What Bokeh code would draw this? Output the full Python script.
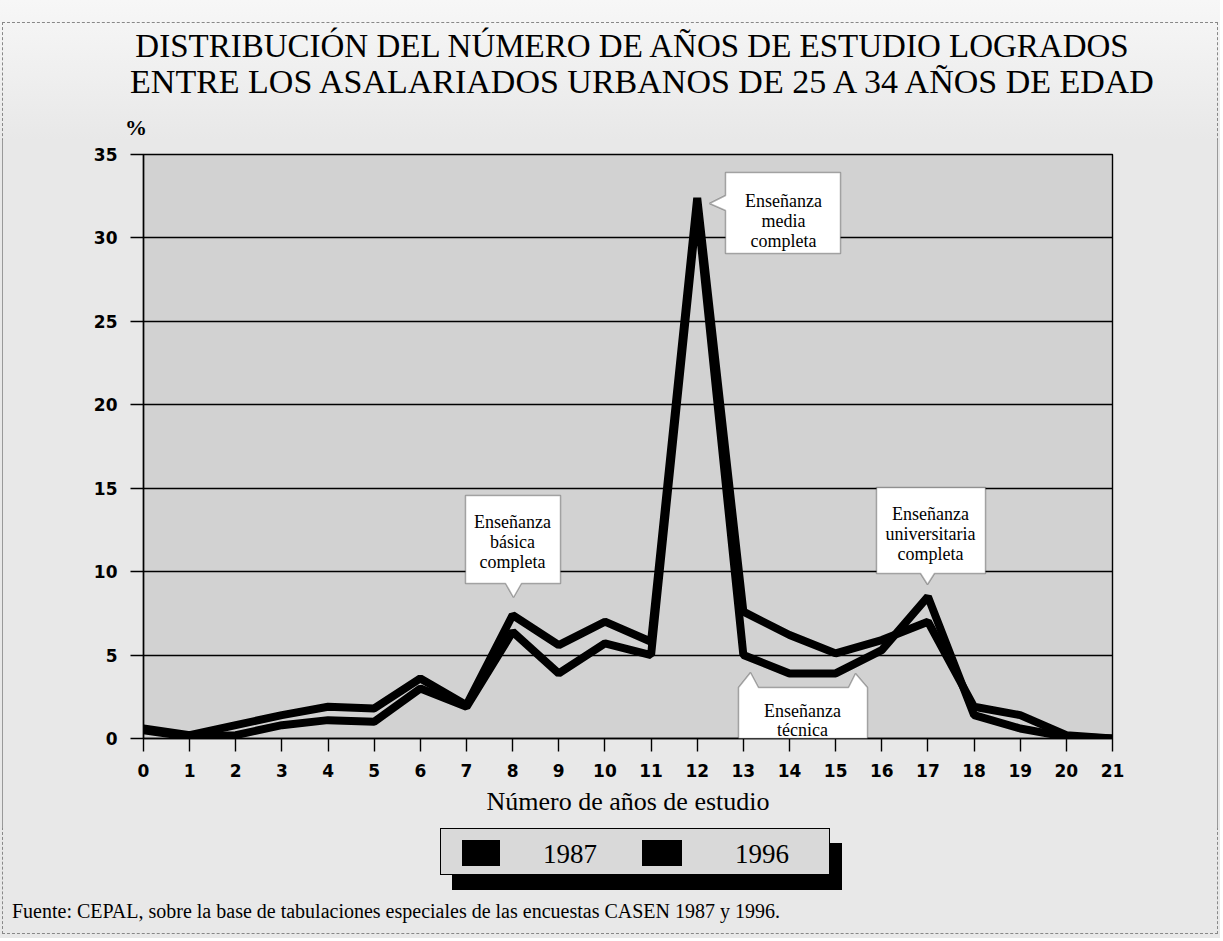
from bokeh.plotting import figure
from bokeh.layouts import column
from bokeh.models import Label, PolyAnnotation, FixedTicker, Range1d, Div
from bokeh.embed import file_html
from bokeh.resources import INLINE

# ---------------- data ----------------
years = list(range(22))
pct_1987 = [0.6, 0.2, 0.8, 1.4, 1.9, 1.8, 3.6, 2.0, 7.4, 5.6, 7.0, 5.8, 32.4,
            7.6, 6.2, 5.1, 5.9, 7.0, 1.9, 1.4, 0.2, 0.0]
pct_1996 = [0.5, 0.1, 0.2, 0.8, 1.1, 1.0, 3.0, 1.9, 6.4, 3.9, 5.7, 5.0, 31.9,
            5.0, 3.9, 3.9, 5.3, 8.5, 1.4, 0.6, 0.1, 0.0]
x_ticks = list(range(0, 22))
y_ticks = [0, 5, 10, 15, 20, 25, 30, 35]
legend_labels = ["1987", "1996"]
title_lines = ["DISTRIBUCIÓN DEL NÚMERO DE AÑOS DE ESTUDIO LOGRADOS",
               "ENTRE LOS ASALARIADOS URBANOS DE 25 A 34 AÑOS DE EDAD"]
x_title = "Número de años de estudio"
y_unit = "%"
source_note = ("Fuente: CEPAL, sobre la base de tabulaciones especiales de las "
               "encuestas CASEN 1987 y 1996.")
callout_basica = ["Enseñanza", "básica", "completa"]
callout_media = ["Enseñanza", "media", "completa"]
callout_univ = ["Enseñanza", "universitaria", "completa"]
callout_tecnica = ["Enseñanza", "técnica"]

SERIF = "Liberation Serif"
TICK_FONT = "DejaVu Sans"
BG = "#e8e8e8"
PLOT_BG = "#d2d2d2"
W = 1220
TOP_H = 140
FRAME_L, FRAME_T, FRAME_W, FRAME_H = 143, 154, 969, 584
MAIN_BOTTOM = 90
BOT_Y0 = FRAME_T + FRAME_H + MAIN_BOTTOM          # page y where the lower strip begins
BOT_H = 938 - BOT_Y0

# ---------------- main chart ----------------
X0_PX, Y0_PX = FRAME_L, FRAME_T + FRAME_H


def sx(px):
    return px - X0_PX


def sy(py):
    return Y0_PX - py


p = figure(frame_width=FRAME_W, frame_height=FRAME_H,
           x_range=Range1d(0, 21), y_range=Range1d(0, 35),
           output_backend="svg", toolbar_location=None,
           min_border_left=FRAME_L, min_border_right=W - FRAME_L - FRAME_W,
           min_border_top=FRAME_T - TOP_H, min_border_bottom=MAIN_BOTTOM)
p.background_fill_color = PLOT_BG
p.border_fill_color = None
p.outline_line_color = "black"
p.outline_line_width = 1.4

p.xaxis.ticker = FixedTicker(ticks=x_ticks)
p.yaxis.ticker = FixedTicker(ticks=y_ticks)
for ax in (p.xaxis, p.yaxis):
    ax.axis_line_color = "black"
    ax.axis_line_width = 1.4
    ax.major_tick_line_color = "black"
    ax.major_tick_line_width = 1.4
    ax.major_tick_in = 0
    ax.major_tick_out = 13
    ax.minor_tick_line_color = None
    ax.major_label_text_font = TICK_FONT
    ax.major_label_text_font_style = "bold"
    ax.major_label_text_font_size = "17px"
    ax.major_label_text_color = "black"
p.xaxis.major_label_standoff = 12
p.yaxis.major_label_standoff = 13
p.xaxis.axis_label = x_title
p.xaxis.axis_label_text_font = SERIF
p.xaxis.axis_label_text_font_style = "normal"
p.xaxis.axis_label_text_font_size = "26px"
p.xaxis.axis_label_text_color = "black"
p.xaxis.axis_label_standoff = 7

p.xgrid.visible = False
p.ygrid.grid_line_color = "black"
p.ygrid.grid_line_width = 1.4
p.ygrid.grid_line_alpha = 1.0

p.line(years, pct_1987, line_width=8, line_color="black", line_join="bevel")
p.line(years, pct_1996, line_width=8, line_color="black", line_join="bevel")


def callout(points, lines, cx, baselines):
    p.add_layout(PolyAnnotation(xs=[sx(a) for a, _ in points],
                                ys=[sy(b) for _, b in points],
                                xs_units="screen", ys_units="screen",
                                fill_color="white", fill_alpha=1.0,
                                line_color="black", line_width=1.5))
    for txt, b in zip(lines, baselines):
        p.add_layout(Label(x=sx(cx), y=sy(b), x_units="screen", y_units="screen",
                           text=txt, text_align="center", text_baseline="alphabetic",
                           text_font=SERIF, text_font_size="18px", text_color="black"))


callout([(465, 495), (560, 495), (560, 583), (521, 583), (513, 597), (505, 583), (465, 583)],
        callout_basica, 512, [521, 541, 561])
callout([(725, 172), (840, 172), (840, 253), (725, 253), (725, 210), (709, 203), (725, 195)],
        callout_media, 783, [200, 220, 240])
callout([(876, 487), (985, 487), (985, 573), (934, 573), (927, 584), (920, 573), (876, 573)],
        callout_univ, 930, [513, 533, 553])
callout([(738, 738), (738, 687), (750, 672), (758, 687), (848, 687), (855, 673), (867, 687), (867, 738)],
        callout_tecnica, 802, [710, 729])

# ---------------- text strips (HTML) ----------------
ASC = 0.8375   # baseline offset of Liberation Serif for line-height 1em


def text_el(txt, x, baseline, size, y0, align="left", bold=False):
    top = baseline - y0 - ASC * size
    weight = "bold" if bold else "normal"
    if align == "center":
        left, width, ta = x - 700, 1400, "center"
    else:
        left, width, ta = x, 1200, "left"
    return (f'<div style="position:absolute;left:{left}px;width:{width}px;top:{top:.1f}px;'
            f'font-size:{size}px;line-height:{size}px;text-align:{ta};font-weight:{weight};'
            f'white-space:nowrap;">{txt}</div>')


def block(l, t, r, b, y0, color, border=None, shadow=None):
    extra = f"border:1px solid {border};box-sizing:border-box;" if border else ""
    if shadow:
        extra += f"box-shadow:{shadow};"
    return (f'<div style="position:absolute;left:{l}px;top:{t - y0}px;width:{r - l}px;'
            f'height:{b - t}px;background:{color};{extra}"></div>')


wrap = ("<div style=\"position:relative;width:{w}px;height:{h}px;overflow:hidden;"
        "font-family:'Liberation Serif',serif;color:#000;background:{bg};\">{body}</div>")

top_body = ('<div style="position:absolute;left:2px;top:22px;width:1216px;height:200px;'
            'border:1px dashed #888;"></div>'
            + text_el(title_lines[0], 632, 58, 33, 0, "center")
            + text_el(title_lines[1], 642, 93, 34, 0, "center")
            + text_el(y_unit, 136, 135, 22, 0, "center", bold=True))
top_div = Div(text=wrap.format(w=W, h=TOP_H, bg="linear-gradient(#f7f7f7, #e8e8e8)", body=top_body),
              width=W, height=TOP_H, styles={"margin": "0", "padding": "0"})

legend_body = block(440, 828, 830, 875, BOT_Y0, "#d9d9d9", border="black",
                    shadow="12px 15px 0 0 #000")
for (l, r), lab, tx in zip([(462, 500), (642, 682)], legend_labels, [543, 735]):
    legend_body += block(l, 840, r, 866, BOT_Y0, "#000")
    legend_body += text_el(lab, tx, 864, 27, BOT_Y0)
bot_body = ('<div style="position:absolute;left:2px;top:-100px;width:1216px;'
            f'height:{934 - BOT_Y0 + 100}px;border:1px dashed #888;"></div>'
            + legend_body
            + text_el(source_note, 12, 918, 20, BOT_Y0))
bot_div = Div(text=wrap.format(w=W, h=BOT_H, bg=BG, body=bot_body),
              width=W, height=BOT_H, styles={"margin": "0", "padding": "0"})

layout = column(top_div, p, bot_div, spacing=0)
layout.styles = {"background": "linear-gradient(to right, transparent 2px, #999 2px, #999 3px, "
                               "transparent 3px, transparent 1217px, #999 1217px, #999 1218px, "
                               "transparent 1218px), " + BG}

open("out.html", "w").write(file_html(layout, INLINE))
